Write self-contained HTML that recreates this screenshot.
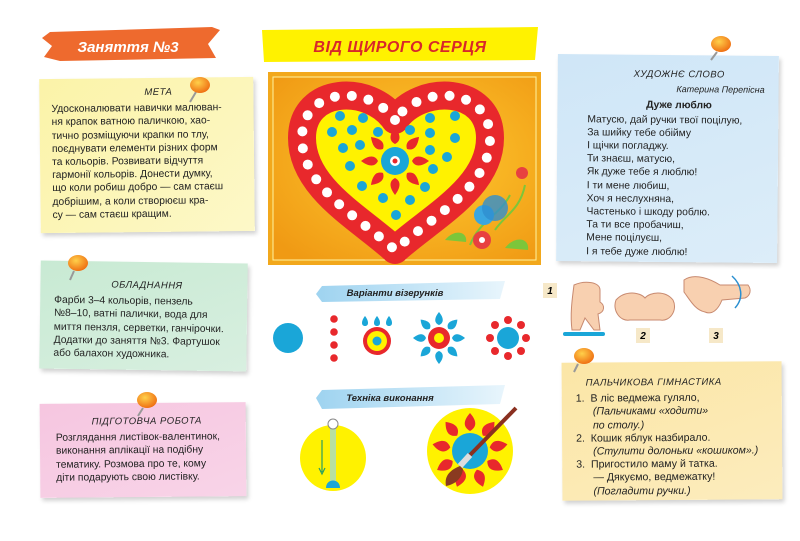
<!DOCTYPE html>
<html><head><meta charset="utf-8"><style>
*{margin:0;padding:0;box-sizing:border-box}
body{width:800px;height:541px;background:#fff;position:relative;overflow:hidden;font-family:"Liberation Sans","DejaVu Sans",sans-serif;color:#222}
.note{position:absolute;box-shadow:2px 3px 4px rgba(0,0,0,.18);font-size:10.3px;line-height:13.2px}
.h{font-style:italic;font-size:9.5px;text-align:center;letter-spacing:.5px;margin-bottom:3px}
svg{position:absolute;left:0;top:0}
</style></head><body>

<div class="note" style="left:40px;top:78px;width:214px;height:154px;background:linear-gradient(135deg,#fbf3a8,#fdf8c8);transform:rotate(-0.6deg);padding:8px 8px 0 12px">
<div class="h" style="padding-left:20px">МЕТА</div>
Удосконалювати навички малюван-<br>ня крапок ватною паличкою, хао-<br>тично розміщуючи крапки по тлу,<br>поєднувати елементи різних форм<br>та кольорів. Розвивати відчуття<br>гармонії кольорів. Донести думку,<br>що коли робиш добро — сам стаєш<br>добрішим, а коли створюєш кра-<br>су — сам стаєш кращим.
</div>

<div class="note" style="left:40px;top:262px;width:207px;height:108px;background:linear-gradient(160deg,#c8ead3,#d8efe0);transform:rotate(0.8deg);padding:17px 8px 0 14px">
<div class="h">ОБЛАДНАННЯ</div>
Фарби 3–4 кольорів, пензель<br>№8–10, ватні палички, вода для<br>миття пензля, серветки, ганчірочки.<br>Додатки до заняття №3. Фартушок<br>або балахон художника.
</div>

<div class="note" style="left:40px;top:403px;width:206px;height:94px;background:linear-gradient(160deg,#f6c6e0,#f8d4e8);transform:rotate(-0.5deg);padding:12px 8px 0 16px">
<div class="h">ПІДГОТОВЧА РОБОТА</div>
Розглядання листівок-валентинок,<br>виконання аплікації на подібну<br>тематику. Розмова про те, кому<br>діти подарують свою листівку.
</div>

<div class="note" style="left:557px;top:55px;width:221px;height:207px;background:linear-gradient(160deg,#cfe6f7,#dcedf9);transform:rotate(0.5deg);padding:13px 8px 0 30px">
<div class="h" style="margin-bottom:2px">ХУДОЖНЄ СЛОВО</div>
<div style="text-align:right;font-style:italic;font-size:9px;padding-right:6px;margin-bottom:3px">Катерина Перепісна</div>
<div style="text-align:center;font-weight:bold;margin-bottom:1px">Дуже люблю</div>
Матусю, дай ручки твої поцілую,<br>За шийку тебе обійму<br>І щічки погладжу.<br>Ти знаєш, матусю,<br>Як дуже тебе я люблю!<br>І ти мене любиш,<br>Хоч я неслухняна,<br>Частенько і шкоду роблю.<br>Та ти все пробачиш,<br>Мене поцілуєш,<br>І я тебе дуже люблю!
</div>

<div class="note" style="left:562px;top:362px;width:220px;height:138px;background:linear-gradient(160deg,#fbe6a6,#fcecbd);transform:rotate(-0.4deg);padding:14px 6px 0 14px;font-size:10.6px">
<div class="h" style="text-align:left;padding-left:10px">ПАЛЬЧИКОВА ГІМНАСТИКА</div>
<div>1.&nbsp; В ліс ведмежа гуляло,</div>
<div style="padding-left:17px;font-style:italic">(Пальчиками «ходити»<br>по столу.)</div>
<div>2.&nbsp; Кошик яблук назбирало.</div>
<div style="padding-left:17px;font-style:italic">(Стулити долоньки «кошиком».)</div>
<div>3.&nbsp; Пригостило маму й татка.</div>
<div style="padding-left:17px">— Дякуємо, ведмежатку!</div>
<div style="padding-left:17px;font-style:italic">(Погладити ручки.)</div>
</div>

<svg width="800" height="541" viewBox="0 0 800 541">
<defs>
<radialGradient id="pin" cx="40%" cy="35%" r="70%"><stop offset="0" stop-color="#ffd04a"/><stop offset="1" stop-color="#ee6a10"/></radialGradient>
<linearGradient id="bl" x1="0" x2="1"><stop offset="0" stop-color="#9ed3f0"/><stop offset="1" stop-color="#e8f5fc"/></linearGradient>
<radialGradient id="fr" cx="55%" cy="45%" r="70%"><stop offset="0" stop-color="#ffcc30"/><stop offset="1" stop-color="#f09a14"/></radialGradient>
</defs>
<path d="M50,32 L212,27 L220,30 L208,44 L216,58 L60,61 L44,57 L52,46 L42,38Z" fill="#ee6a2e"/>
<text x="128" y="52" font-size="15" font-weight="bold" font-style="italic" fill="#fff" text-anchor="middle">Заняття №3</text>
<path d="M262,30 L538,27 L535,60 L264,62 Z" fill="#fff200"/>
<text x="400" y="52" font-size="16" font-weight="bold" font-style="italic" fill="#d8282a" text-anchor="middle" letter-spacing="0.5">ВІД ЩИРОГО СЕРЦЯ</text>
<rect x="268" y="72" width="273" height="193" fill="#f2a81c"/>
<rect x="273" y="77" width="263" height="183" fill="url(#fr)" stroke="#fff3a0" stroke-width="1"/>
<path d="M395,120 C370,84 302,86 302,138 C302,188 360,218 395,250 C430,218 490,188 490,138 C490,86 420,84 395,120Z" fill="#fff200" stroke="#e8282c" stroke-width="28" stroke-linejoin="round"/>
<path d="M395,120 C370,84 302,86 302,138 C302,188 360,218 395,250 C430,218 490,188 490,138 C490,86 420,84 395,120Z" fill="none" stroke="#fff" stroke-width="10" stroke-dasharray="0 17" stroke-linecap="round"/>
<g fill="#1aa6d8">
<circle cx="340" cy="116" r="5"/><circle cx="363" cy="118" r="5"/><circle cx="430" cy="118" r="5"/><circle cx="455" cy="116" r="5"/>
<circle cx="332" cy="132" r="5"/><circle cx="352" cy="130" r="5"/><circle cx="378" cy="132" r="5"/><circle cx="410" cy="130" r="5"/><circle cx="430" cy="133" r="5"/><circle cx="455" cy="138" r="5"/>
<circle cx="343" cy="148" r="5"/><circle cx="360" cy="145" r="5"/><circle cx="430" cy="150" r="5"/><circle cx="447" cy="157" r="5"/>
<circle cx="350" cy="166" r="5"/><circle cx="433" cy="169" r="5"/><circle cx="362" cy="186" r="5"/><circle cx="425" cy="187" r="5"/>
<circle cx="383" cy="198" r="5"/><circle cx="410" cy="200" r="5"/><circle cx="396" cy="215" r="5"/>
</g>
<g transform="translate(395,161)" fill="#e8282c">
<g id="pt"><path d="M0,-34 C6,-26 6,-20 0,-17 C-6,-20 -6,-26 0,-34Z"/></g>
<use href="#pt" transform="rotate(45)"/><use href="#pt" transform="rotate(90)"/><use href="#pt" transform="rotate(135)"/><use href="#pt" transform="rotate(180)"/><use href="#pt" transform="rotate(225)"/><use href="#pt" transform="rotate(270)"/><use href="#pt" transform="rotate(315)"/>
<circle r="14" fill="#1aa6d8"/><circle r="5" fill="#fff"/><circle r="2.5"/>
</g>
<g>
<path d="M470,245 C480,220 500,215 510,195 M495,230 C505,215 520,210 525,185" stroke="#7cc63a" stroke-width="2" fill="none"/>
<circle cx="484" cy="215" r="10" fill="#3aa6e0"/><circle cx="495" cy="208" r="13" fill="#2f8fd0" opacity=".8"/>
<circle cx="482" cy="240" r="9" fill="#e84040"/><circle cx="482" cy="240" r="3" fill="#fff"/>
<circle cx="522" cy="173" r="6" fill="#e84040"/>
<path d="M505,248 C515,235 530,238 528,250Z M445,240 C455,228 468,232 466,242Z" fill="#7cc63a"/>
</g>
<path d="M322,286 L505,281 L500,299 L322,302 L316,294Z" fill="url(#bl)"/>
<text x="395" y="296" font-size="9.5" font-style="italic" font-weight="bold" fill="#222" text-anchor="middle">Варіанти візерунків</text>
<path d="M322,390 L505,385 L500,404 L322,409 L316,398Z" fill="url(#bl)"/>
<text x="390" y="401" font-size="9.5" font-style="italic" font-weight="bold" fill="#222" text-anchor="middle">Техніка виконання</text>
<circle cx="288" cy="338" r="15" fill="#1aa6d8"/>
<g fill="#e8282c"><circle cx="334" cy="319" r="3.8"/><circle cx="334" cy="332" r="3.8"/><circle cx="334" cy="345" r="3.8"/><circle cx="334" cy="358" r="3.8"/></g>
<g fill="#1aa6d8"><path d="M365,316 c4,5 4,10 0,10 c-4,0 -4,-5 0,-10Z"/><path d="M377,316 c4,5 4,10 0,10 c-4,0 -4,-5 0,-10Z"/><path d="M389,316 c4,5 4,10 0,10 c-4,0 -4,-5 0,-10Z"/></g>
<circle cx="377" cy="341" r="14" fill="#e8282c"/><circle cx="377" cy="341" r="10" fill="#fff200"/><circle cx="377" cy="341" r="4.5" fill="#1aa6d8"/>
<g transform="translate(439,338)" fill="#1aa6d8">
<g id="bp"><path d="M0,-26 C5,-20 5,-15 0,-13 C-5,-15 -5,-20 0,-26Z"/></g>
<use href="#bp" transform="rotate(45)"/><use href="#bp" transform="rotate(90)"/><use href="#bp" transform="rotate(135)"/><use href="#bp" transform="rotate(180)"/><use href="#bp" transform="rotate(225)"/><use href="#bp" transform="rotate(270)"/><use href="#bp" transform="rotate(315)"/>
<circle r="11" fill="#e8282c"/><circle r="5" fill="#fff200"/></g>
<g transform="translate(508,338)" fill="#e8282c">
<circle r="11" fill="#1aa6d8"/>
<circle cx="0" cy="-18" r="4"/><circle cx="13" cy="-13" r="4"/><circle cx="18" cy="0" r="4"/><circle cx="13" cy="13" r="4"/><circle cx="0" cy="18" r="4"/><circle cx="-13" cy="13" r="4"/><circle cx="-18" cy="0" r="4"/><circle cx="-13" cy="-13" r="4"/></g>
<circle cx="333" cy="458" r="33" fill="#fff200"/>
<rect x="330" y="424" width="6" height="58" fill="#b8e0a0"/>
<circle cx="333" cy="424" r="5" fill="#fff" stroke="#888"/>
<path d="M326,488 C326,478 340,478 340,488Z" fill="#1aa6d8"/>
<path d="M322,440 L322,472 M319,468 L322,474 L325,468" stroke="#2aa060" stroke-width="1.2" fill="none"/>
<circle cx="470" cy="451" r="43" fill="#fff200"/>
<g transform="translate(470,451)" fill="#e8282c">
<g id="rp"><path d="M0,-38 C7,-30 7,-24 0,-20 C-7,-24 -7,-30 0,-38Z"/></g>
<use href="#rp" transform="rotate(40)"/><use href="#rp" transform="rotate(80)"/><use href="#rp" transform="rotate(120)"/><use href="#rp" transform="rotate(160)"/><use href="#rp" transform="rotate(200)"/><use href="#rp" transform="rotate(240)"/><use href="#rp" transform="rotate(280)"/><use href="#rp" transform="rotate(320)"/>
<circle r="18" fill="#1aa6d8"/></g>
<path d="M516,408 L470,455" stroke="#8a3020" stroke-width="4"/>
<path d="M470,455 L460,466" stroke="#ddd" stroke-width="6"/>
<path d="M460,466 C450,470 444,476 446,486 C456,484 462,478 463,469Z" fill="#8a3a20"/>
<g fill="#f8d0b0" stroke="#c88a70" stroke-width="1">
<path d="M574,285 C585,280 600,282 600,290 L600,302 C605,305 605,312 598,314 L600,330 L594,330 L585,318 L580,330 L572,330 C570,315 572,300 574,285Z"/>
<path d="M616,300 C625,290 640,292 645,298 C650,292 665,290 673,300 C678,310 670,322 660,320 L630,320 C620,322 612,310 616,300Z"/>
<path d="M684,280 C695,272 712,280 720,285 L748,285 C752,290 750,296 745,298 L722,300 C718,310 712,315 705,312 C695,310 690,300 684,292Z"/>
</g>
<path d="M732,276 C742,285 744,298 735,308" stroke="#2a8fd0" stroke-width="1.5" fill="none"/>
<rect x="563" y="332" width="42" height="4" rx="2" fill="#1aa6d8"/>
<g font-size="10" font-weight="bold" font-style="italic" text-anchor="middle">
<rect x="543" y="283" width="14" height="15" fill="#f6e8c8"/><text x="550" y="294">1</text>
<rect x="636" y="328" width="14" height="15" fill="#f6e8c8"/><text x="643" y="339">2</text>
<rect x="709" y="328" width="14" height="15" fill="#f6e8c8"/><text x="716" y="339">3</text>
</g>
<g><path d="M196,92 L190,102" stroke="#999" stroke-width="2"/><ellipse cx="200" cy="85" rx="10" ry="8" fill="url(#pin)"/></g>
<g><path d="M74,271 L70,280" stroke="#999" stroke-width="2"/><ellipse cx="78" cy="263" rx="10" ry="8" fill="url(#pin)"/></g>
<g><path d="M143,408 L138,416" stroke="#999" stroke-width="2"/><ellipse cx="147" cy="400" rx="10" ry="8" fill="url(#pin)"/></g>
<g><path d="M717,52 L711,60" stroke="#999" stroke-width="2"/><ellipse cx="721" cy="44" rx="10" ry="8" fill="url(#pin)"/></g>
<g><path d="M578,364 L574,372" stroke="#999" stroke-width="2"/><ellipse cx="584" cy="356" rx="10" ry="8" fill="url(#pin)"/></g>
</svg>
</body></html>
